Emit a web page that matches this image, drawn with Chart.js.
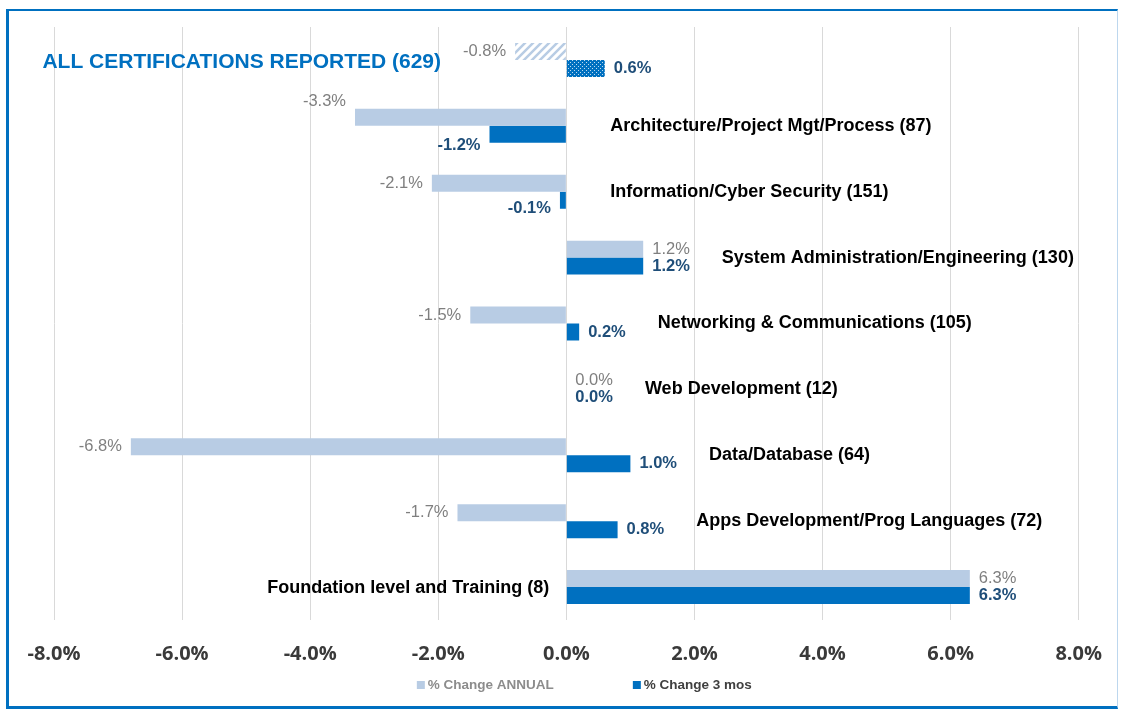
<!DOCTYPE html>
<html>
<head>
<meta charset="utf-8">
<script src="https://cdn.jsdelivr.net/npm/chart.js@4.4.0/dist/chart.umd.min.js"></script>
<style>
  html, body { margin: 0; padding: 0; background: #fff; }
  #wrap { position: relative; width: 1124px; height: 711px; overflow: hidden; }
  #frame {
    position: absolute; left: 6px; top: 9px; width: 1112px; height: 700px;
    box-sizing: border-box;
    border-top: 2px solid #0070C0; border-left: 3px solid #0070C0;
    border-bottom: 3px solid #0070C0; border-right: 1px solid #BDD7EE;
    pointer-events: none;
  }
  canvas { position: absolute; left: 0; top: 0; }
</style>
</head>
<body>
<div id="wrap">
  <canvas id="chart" width="1124" height="711"></canvas>
  <div id="frame"></div>
</div>
<script>
const categories = [
  "ALL CERTIFICATIONS REPORTED (629)",
  "Architecture/Project Mgt/Process (87)",
  "Information/Cyber Security (151)",
  "System Administration/Engineering (130)",
  "Networking & Communications (105)",
  "Web Development (12)",
  "Data/Database (64)",
  "Apps Development/Prog Languages (72)",
  "Foundation level and Training (8)"
];
const annualChange = [-0.8, -3.3, -2.1, 1.2, -1.5, 0.0, -6.8, -1.7, 6.3];
const threeMonthChange = [0.6, -1.2, -0.1, 1.2, 0.2, 0.0, 1.0, 0.8, 6.3];
const seriesNames = ["% Change ANNUAL", "% Change 3 mos"];
const xTicks = [-8, -6, -4, -2, 0, 2, 4, 6, 8];

const LIGHT = "#B8CCE4";
const BLUE = "#0070C0";

// hatched / dotted fills for the "all" row
function hatchPattern(color) {
  const c = document.createElement("canvas");
  c.width = 8; c.height = 8;
  const g = c.getContext("2d");
  g.strokeStyle = color;
  g.lineWidth = 2.5;
  g.beginPath();
  g.moveTo(0, 8); g.lineTo(8, 0);
  g.moveTo(-2, 2); g.lineTo(2, -2);
  g.moveTo(6, 10); g.lineTo(10, 6);
  g.stroke();
  return g.createPattern(c, "repeat");
}
function dotPattern(color) {
  const c = document.createElement("canvas");
  c.width = 4; c.height = 4;
  const g = c.getContext("2d");
  g.fillStyle = color;
  g.fillRect(0, 0, 4, 4);
  g.fillStyle = "rgba(255,255,255,0.75)";
  g.fillRect(0, 0, 1, 1);
  g.fillRect(2, 2, 1, 1);
  return g.createPattern(c, "repeat");
}

const annualColors = annualChange.map((v, i) => i === 0 ? hatchPattern(LIGHT) : LIGHT);
const threeColors = threeMonthChange.map((v, i) => i === 0 ? dotPattern(BLUE) : BLUE);

const pct = v => v.toFixed(1) + "%";

// small vertical nudges for a couple of value labels
const labelNudge = { "0-1": -16, "1-1": 11, "1-2": 8 };

const barLabels = {
  id: "barLabels",
  afterDatasetsDraw(chart) {
    const ctx = chart.ctx;
    const xs = chart.scales.x;
    const zero = xs.getPixelForValue(0);
    const m0 = chart.getDatasetMeta(0).data;
    const m1 = chart.getDatasetMeta(1).data;
    ctx.save();
    ctx.textBaseline = "middle";

    const fonts = ['16.5px "Liberation Sans", Arial', 'bold 16.5px "Liberation Sans", Arial'];
    const colors = ["#7F7F7F", "#1F4E79"];
    const vals = [annualChange, threeMonthChange];

    categories.forEach((cat, i) => {
      let right = zero, left = zero;
      [m0[i], m1[i]].forEach((bar, di) => {
        const v = vals[di][i];
        const txt = pct(v);
        ctx.font = fonts[di];
        ctx.fillStyle = colors[di];
        const dy = labelNudge[di + "-" + i] || 0;
        const w = ctx.measureText(txt).width;
        if (v < 0) {
          ctx.textAlign = "right";
          ctx.fillText(txt, bar.x - 9, bar.y + dy);
          left = Math.min(left, bar.x - 9 - w);
        } else {
          ctx.textAlign = "left";
          ctx.fillText(txt, bar.x + 9, bar.y + dy);
          right = Math.max(right, bar.x + 9 + w + 32);
        }
      });
      if (right === zero) right = zero + 44;
      const cy = (m0[i].y + m1[i].y) / 2;
      if (i === 0) {
        ctx.font = 'bold 21px "Liberation Sans", Arial';
        ctx.fillStyle = BLUE;
        ctx.textAlign = "right";
        ctx.fillText(cat, left - 22, cy + 2);
      } else if (i === categories.length - 1) {
        ctx.font = 'bold 18px "Liberation Sans", Arial';
        ctx.fillStyle = "#000";
        ctx.textAlign = "right";
        ctx.fillText(cat, zero - 17, cy + 1);
      } else {
        ctx.font = 'bold 18px "Liberation Sans", Arial';
        ctx.fillStyle = "#000";
        ctx.textAlign = "left";
        ctx.fillText(cat, right, cy);
      }
    });
    ctx.restore();
  }
};

const bottomLegend = {
  id: "bottomLegend",
  afterDraw(chart) {
    const ctx = chart.ctx;
    const a = chart.chartArea;
    const cx = (a.left + a.right) / 2 + 18;
    const y = 685;
    ctx.save();
    ctx.font = 'bold 13.5px "Liberation Sans", Arial';
    ctx.textBaseline = "middle";
    ctx.textAlign = "left";
    const sq = 8, gap = 3, space = 79;
    const w0 = ctx.measureText(seriesNames[0]).width;
    const w1 = ctx.measureText(seriesNames[1]).width;
    const total = sq + gap + w0 + space + sq + gap + w1;
    let x = cx - total / 2;
    ctx.fillStyle = LIGHT;
    ctx.fillRect(x, y - 4, sq, sq);
    ctx.fillStyle = "#8C8C8C";
    ctx.fillText(seriesNames[0], x + sq + gap, y);
    x += sq + gap + w0 + space;
    ctx.fillStyle = BLUE;
    ctx.fillRect(x, y - 4, sq, sq);
    ctx.fillStyle = "#404040";
    ctx.fillText(seriesNames[1], x + sq + gap, y);
    ctx.restore();
  }
};

new Chart(document.getElementById("chart"), {
  type: "bar",
  data: {
    labels: categories,
    datasets: [
      { label: seriesNames[0], data: annualChange, backgroundColor: annualColors },
      { label: seriesNames[1], data: threeMonthChange, backgroundColor: threeColors }
    ]
  },
  options: {
    indexAxis: "y",
    responsive: false,
    animation: false,
    categoryPercentage: 0.515,
    barPercentage: 1.0,
    layout: { padding: { left: 54, right: 20, top: 27, bottom: 23 } },
    plugins: {
      legend: { display: false },
      tooltip: { enabled: false }
    },
    scales: {
      x: {
        min: -8,
        max: 8,
        afterBuildTicks: s => { s.ticks = xTicks.map(v => ({ value: v })); },
        ticks: {
          callback: v => pct(v),
          color: "#3A3A3A",
          font: { family: "'Open Sans', 'DejaVu Sans', sans-serif", size: 20, weight: "bold" },
          padding: 22,
          maxRotation: 0
        },
        grid: { color: "#D9D9D9", drawTicks: false },
        border: { display: false }
      },
      y: {
        display: false
      }
    }
  },
  plugins: [barLabels, bottomLegend]
});
</script>
</body>
</html>
